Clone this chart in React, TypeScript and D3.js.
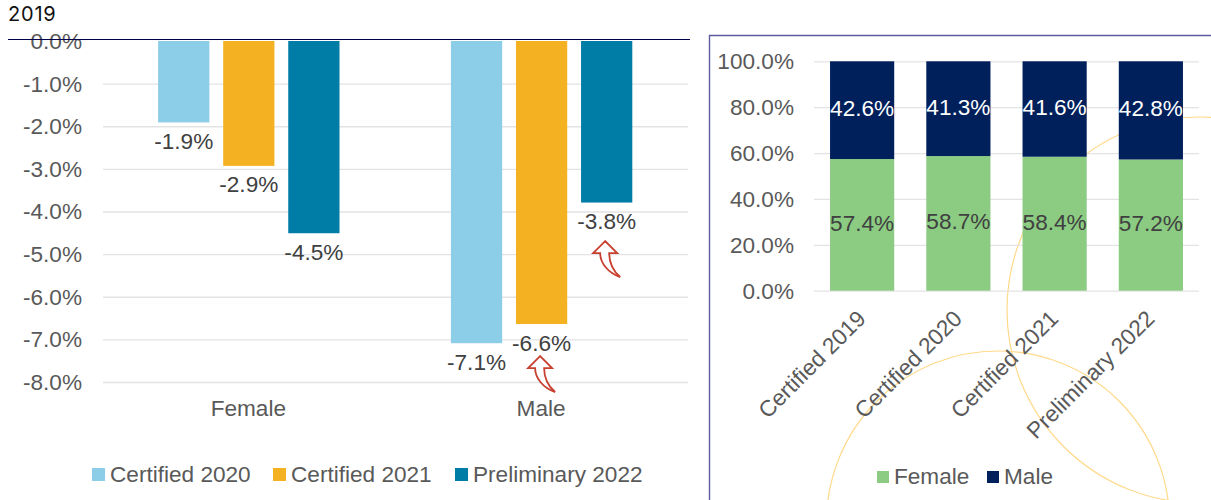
import {useEffect, useRef} from "react";
import * as d3 from "d3";

const changeGroups = ["Female", "Male"];
const changeSeries = ["Certified 2020", "Certified 2021", "Preliminary 2022"];
const femaleChange = [-1.91, -2.93, -4.51];
const maleChange = [-7.09, -6.64, -3.79];
const changeTicks = [0, -1, -2, -3, -4, -5, -6, -7, -8];
const changeColors = ["#8CCDE8", "#F4B223", "#007DA6"];

const shareYears = ["Certified 2019", "Certified 2020", "Certified 2021", "Preliminary 2022"];
const femaleShare = [57.4, 58.7, 58.4, 57.2];
const maleShare = [42.6, 41.3, 41.6, 42.8];
const shareTicks = [0, 20, 40, 60, 80, 100];
const shareKeys = ["Female", "Male"];
const shareColors = ["#8BCB82", "#00205C"];

const FONT = "'Liberation Sans', Arial, sans-serif";
const FONT_SIZE = 22.6;
const TICK_COLOR = "#595959";
const LABEL_COLOR = "#404040";
const GRID_COLOR = "#E3E3E3";
const ARC_COLOR = "#FFD98A";

// hollow curved arrow, tip at 0,0
const ARROW = "M0,0 L-12,12 L-5,12 C-5,22 3,32 15,36 C8,30 4,22 4,12 L12,12 Z";

function styleAxis(g) {
    g.select(".domain").remove();
    g.selectAll(".tick line").attr("stroke", GRID_COLOR).attr("stroke-width", 1.3);
    g.selectAll(".tick text")
        .attr("fill", TICK_COLOR)
        .attr("font-size", FONT_SIZE)
        .attr("font-family", FONT)
        .attr("dy", "0.33em");
}

function legend(svg, items, colors, squares, texts, squareY, textY, size) {
    items.forEach((item, i) => {
        svg.append("rect")
            .attr("x", squares[i]).attr("y", squareY)
            .attr("width", size).attr("height", size)
            .attr("fill", colors[i]);
        svg.append("text")
            .attr("x", texts[i]).attr("y", textY)
            .attr("fill", TICK_COLOR)
            .attr("font-size", FONT_SIZE)
            .attr("font-family", FONT)
            .text(item);
    });
}

function drawChange(svg) {
    const left = 103, right = 688;
    const y = d3.scaleLinear().domain([0, -8]).range([41, 382]);
    const x0 = d3.scaleBand().domain(changeGroups).range([left - 0.6, right]);
    const x1 = d3.scaleBand().domain(changeSeries).range([0, x0.bandwidth()])
        .paddingInner(0.2123).paddingOuter(0.856);
    const values = {Female: femaleChange, Male: maleChange};

    const axis = d3.axisLeft(y)
        .tickValues(changeTicks)
        .tickFormat(d => d.toFixed(1) + "%")
        .tickSize(-(right - left))
        .tickPadding(21);
    const ax = svg.append("g").attr("transform", `translate(${left},0)`).call(axis);
    styleAxis(ax);
    ax.selectAll(".tick line").filter(d => d === 0).remove();

    changeGroups.forEach(group => {
        const g = svg.append("g").attr("transform", `translate(${x0(group)},0)`);
        changeSeries.forEach((s, i) => {
            const v = values[group][i];
            g.append("rect")
                .attr("x", x1(s)).attr("y", y(0))
                .attr("width", x1.bandwidth())
                .attr("height", y(v) - y(0))
                .attr("fill", changeColors[i]);
            g.append("text")
                .attr("x", x1(s) + x1.bandwidth() / 2)
                .attr("y", y(v) + 26.5)
                .attr("text-anchor", "middle")
                .attr("fill", LABEL_COLOR)
                .attr("font-size", 22.6)
                .attr("font-family", FONT)
                .text(v.toFixed(1) + "%");
        });
        svg.append("text")
            .attr("x", x0(group) + x0.bandwidth() / 2 - 0.5)
            .attr("y", 416)
            .attr("text-anchor", "middle")
            .attr("fill", TICK_COLOR)
            .attr("font-size", FONT_SIZE)
            .attr("font-family", FONT)
            .text(group);
    });

    // the two call-out arrows sit under the labels they point to
    [["Male", 2, 38.5], ["Male", 1, 32]].forEach(([group, i, off]) => {
        svg.append("path")
            .attr("d", ARROW)
            .attr("transform", `translate(${x0(group) + x1(changeSeries[i]) + x1.bandwidth() / 2 - 1.5},${y(values[group][i]) + off})`)
            .attr("fill", "white")
            .attr("stroke", "#C8402F")
            .attr("stroke-width", 1.8);
    });

    legend(svg, changeSeries, changeColors, [92, 273, 455], [110, 291, 473], 468, 482, 13);
}

function drawShare(svg) {
    const left = 814, right = 1199;
    const y = d3.scaleLinear().domain([0, 100]).range([290.7, 61.3]);
    const x = d3.scaleBand().domain(shareYears).range([left, right]).padding(0.3333).paddingOuter(0.1667);

    const axis = d3.axisLeft(y)
        .tickValues(shareTicks)
        .tickFormat(d => d.toFixed(1) + "%")
        .tickSize(-(right - left))
        .tickPadding(20);
    const ax = svg.append("g").attr("transform", `translate(${left},0)`).call(axis);
    styleAxis(ax);

    const rows = shareYears.map((year, i) => ({year, Female: femaleShare[i], Male: maleShare[i]}));
    const stacked = d3.stack().keys(shareKeys)(rows);

    stacked.forEach((layer, k) => {
        layer.forEach(d => {
            svg.append("rect")
                .attr("x", x(d.data.year)).attr("y", y(d[1]))
                .attr("width", x.bandwidth())
                .attr("height", y(d[0]) - y(d[1]))
                .attr("fill", shareColors[k]);
            svg.append("text")
                .attr("x", x(d.data.year) + x.bandwidth() / 2)
                .attr("y", (y(d[0]) + y(d[1])) / 2 + 6)
                .attr("text-anchor", "middle")
                .attr("fill", k === 1 ? "white" : LABEL_COLOR)
                .attr("font-size", FONT_SIZE)
                .attr("font-family", FONT)
                .text((d[1] - d[0]).toFixed(1) + "%");
        });
    });

    shareYears.forEach(year => {
        const px = x(year) + x.bandwidth() / 2 + 5;
        svg.append("text")
            .attr("transform", `translate(${px},320) rotate(-45)`)
            .attr("text-anchor", "end")
            .attr("fill", TICK_COLOR)
            .attr("font-size", FONT_SIZE)
            .attr("font-family", FONT)
            .text(year);
    });

    legend(svg, shareKeys, shareColors, [877, 987], [894, 1004], 471, 484, 12);
}

export default function App() {
    const ref = useRef(null);

    useEffect(() => {
        const svg = d3.select(ref.current);
        svg.selectAll("svg > *").remove();

        svg.append("rect").attr("width", 1211).attr("height", 500).attr("fill", "white");

        // slide decoration behind the right chart
        svg.append("circle").attr("cx", 1200).attr("cy", 310).attr("r", 193)
            .attr("fill", "none").attr("stroke", ARC_COLOR).attr("stroke-width", 1.2);
        svg.append("circle").attr("cx", 998).attr("cy", 522.5).attr("r", 171.5)
            .attr("fill", "none").attr("stroke", ARC_COLOR).attr("stroke-width", 1.2);

        // frame of the right panel
        svg.append("path").attr("d", "M709.5,500 L709.5,35.5 L1211,35.5")
            .attr("fill", "none").attr("stroke", "#5F5B9E").attr("stroke-width", 1.4);

        drawChange(svg);
        drawShare(svg);

        // rule over the top of the left chart
        svg.append("line").attr("x1", 8).attr("x2", 690).attr("y1", 39.5).attr("y2", 39.5)
            .attr("stroke", "#00004A").attr("stroke-width", 1.2);
        svg.append("text").attr("x", 8).attr("y", 21)
            .attr("fill", "#111")
            .attr("font-size", 20)
            .attr("letter-spacing", 0.8)
            .attr("font-family", "Inter, sans-serif")
            .text("2019");
    }, []);

    return <svg ref={ref} width={1211} height={500}
                style={{position: "absolute", left: 0, top: 0, display: "block"}}></svg>;
}
